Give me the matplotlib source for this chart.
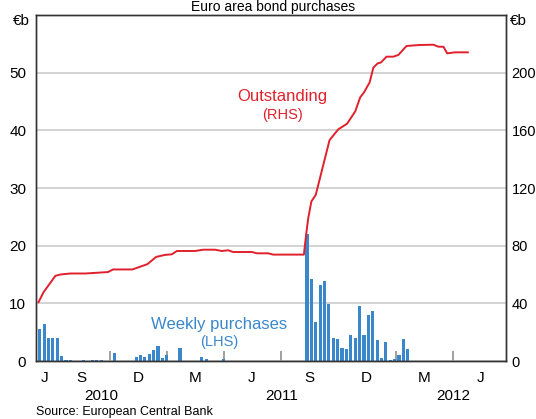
import numpy as np
import pandas as pd
import matplotlib
matplotlib.use("Agg")
import matplotlib.pyplot as plt
import matplotlib.dates as mdates

plt.rcParams['font.family'] = ['Liberation Sans', 'DejaVu Sans']

# weekly purchases, €b (LHS), one value per week from 11 June 2010
weekly_start = "2010-06-11"
weekly = [5.5, 6.4, 4.0, 4.0, 4.0, 0.9, 0.2, 0.2, 0, 0,
          0.2, 0, 0.2, 0.2, 0.2, 0, 0, 1.4, 0, 0,
          0, 0, 0.7, 1.0, 0.7, 1.2, 1.9, 2.6, 0.5, 1.0,
          0, 0, 2.2, 0, 0, 0, 0, 0.7, 0.3, 0,
          0, 0, 0.3, 0, 0, 0, 0, 0, 0, 0,
          0, 0, 0, 0, 0, 0, 0, 0, 0, 0,
          0, 22.1, 14.3, 6.7, 13.2, 13.9, 9.8, 4.0, 3.8, 2.2,
          2.1, 4.5, 4.0, 9.5, 4.5, 7.9, 8.6, 3.6, 0.5, 3.3,
          0.2, 0.3, 1.0, 3.8, 2.1]

# outstanding holdings, €b (RHS)
out_dates = ["2010-06-09", "2010-06-17", "2010-07-06", "2010-07-14", "2010-07-30",
             "2010-08-23", "2010-09-10", "2010-09-28", "2010-10-06", "2010-11-06",
             "2010-11-30", "2010-12-14", "2010-12-28", "2011-01-08", "2011-01-16",
             "2011-02-14", "2011-02-27", "2011-03-18", "2011-03-29", "2011-04-08",
             "2011-04-16", "2011-05-16", "2011-05-24", "2011-06-11", "2011-06-19",
             "2011-08-07", "2011-08-10", "2011-08-14", "2011-08-19", "2011-08-26",
             "2011-09-07", "2011-09-17", "2011-10-01", "2011-10-15", "2011-10-28",
             "2011-11-05", "2011-11-11", "2011-11-20", "2011-11-26", "2011-12-03",
             "2011-12-08", "2011-12-17", "2011-12-28", "2012-01-05", "2012-01-18",
             "2012-02-08", "2012-03-01", "2012-03-09", "2012-03-17", "2012-03-23",
             "2012-04-04", "2012-04-25"]
outstanding = [40.8, 47.7, 59.1, 60.0, 60.7,
               60.7, 61.2, 61.7, 63.5, 63.5,
               67.2, 72.2, 73.6, 74.0, 76.3,
               76.3, 77.2, 77.2, 76.3, 76.8,
               75.6, 75.6, 74.7, 74.7, 73.8,
               73.8, 85.5, 99.2, 110.7, 115.3,
               136.0, 153.2, 160.7, 164.6, 173.1,
               182.9, 186.3, 193.2, 203.5, 206.5,
               207.0, 211.1, 211.1, 212.3, 218.5,
               219.2, 219.4, 218.0, 218.0, 213.4,
               214.1, 214.1]

left_ticks = [0, 10, 20, 30, 40, 50]
right_ticks = [0, 40, 80, 120, 160, 200]
quarter_ticks = ["2010-07-01", "2010-10-01", "2011-01-01", "2011-04-01", "2011-07-01",
                 "2011-10-01", "2012-01-01", "2012-04-01"]
month_labels = ["J", "S", "D", "M", "J", "S", "D", "M", "J"]
month_pos = ["2010-06-18", "2010-08-16", "2010-11-15", "2011-02-14", "2011-05-16",
             "2011-08-16", "2011-11-15", "2012-02-15", "2012-05-16"]
year_labels = ["2010", "2011", "2012"]
year_pos = ["2010-09-18", "2011-07-02", "2012-04-01"]

red = "#e0202c"
blue = "#3a87cc"

H = 419.0
fig = plt.figure(figsize=(5.36, 4.19), dpi=100)
ax = fig.add_axes([0.0672, 1 - 361 / H, 0.8769, (361 - 15) / H])
ax2 = ax.twinx()

wdates = pd.date_range(weekly_start, periods=len(weekly), freq="7D")
ax.bar(wdates, weekly, width=5.0, color=blue, zorder=2)
ax2.plot(pd.to_datetime(out_dates), outstanding, color=red, lw=1.4, zorder=3)

ax.set_xlim(pd.Timestamp("2010-06-05"), pd.Timestamp("2012-06-25"))
ax.set_ylim(0, 60)
ax2.set_ylim(0, 240)
ax.set_yticks(left_ticks)
ax2.set_yticks(right_ticks)
ax.set_yticklabels([str(v) for v in left_ticks], fontsize=11)
ax2.set_yticklabels([str(v) for v in right_ticks], fontsize=10.5)
ax.tick_params(axis='y', length=0, pad=7)
ax2.tick_params(axis='y', length=0, pad=4)
ax.yaxis.grid(True, color="#c8c8c8", lw=1.1)
ax.set_axisbelow(True)

ax.set_xticks(pd.to_datetime(quarter_ticks))
ax.tick_params(axis='x', which='major', direction='in', length=7, width=1.3,
               color='#999999', labelbottom=False)
ax.xaxis.set_minor_locator(plt.NullLocator())

for a in (ax, ax2):
    for s in a.spines.values():
        s.set_color("#333333")
        s.set_linewidth(1.0)

xt = ax.get_xaxis_transform()
for lab, d in zip(month_labels, month_pos):
    ax.text(pd.Timestamp(d), -0.049, lab, transform=xt, ha='center', va='center', fontsize=11)
for lab, d in zip(year_labels, year_pos):
    ax.text(pd.Timestamp(d), -0.10, lab, transform=xt, ha='center', va='center', fontsize=11)

fig.text(0.0672 - 0.012, 1 - 21 / H, "€b", ha='right', va='center', fontsize=11)
fig.text(0.0672 + 0.8769 + 0.008, 1 - 21 / H, "€b", ha='left', va='center', fontsize=11)

ax.text(0.525, 0.764, "Outstanding", transform=ax.transAxes, ha='center', va='center',
        fontsize=12, color=red)
ax.text(0.525, 0.710, "(RHS)", transform=ax.transAxes, ha='center', va='center',
        fontsize=10.5, color=red)
ax.text(0.39, 0.106, "Weekly purchases", transform=ax.transAxes, ha='center', va='center',
        fontsize=12, color=blue)
ax.text(0.39, 0.054, "(LHS)", transform=ax.transAxes, ha='center', va='center',
        fontsize=10.5, color=blue)

fig.text(0.51, 1 - 11.5 / H, "Euro area bond purchases", ha='center', va='baseline',
         fontsize=10)
fig.text(0.0672, 1 - 412 / H, "Source: European Central Bank", ha='left', va='center',
         fontsize=9)

fig.savefig("out.png", dpi=100)
